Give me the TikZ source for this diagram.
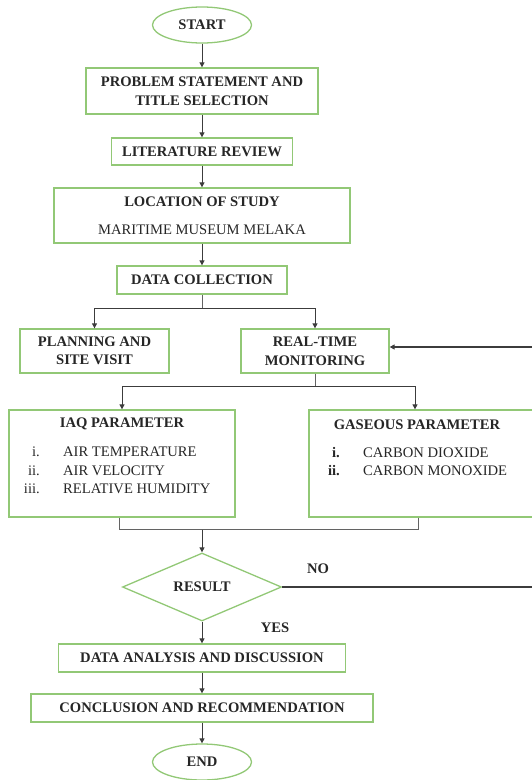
\documentclass[tikz,border=0pt]{standalone}
\usepackage{fontspec}
\setmainfont{Liberation Serif}
\usetikzlibrary{shapes.geometric,arrows.meta}
\definecolor{boxgreen}{RGB}{146,200,118}
\definecolor{linegray}{RGB}{60,60,60}
\tikzset{
  base/.style={draw=boxgreen, line width=1.3pt, inner sep=0pt, align=center,
    font=\fontsize{14.6}{18.5}\selectfont\bfseries, text=black!85},
  stepbox/.style={base, rectangle},
  termbox/.style={base, ellipse, minimum width=99pt, minimum height=36pt},
  decbox/.style={base, diamond, minimum width=159pt, minimum height=68pt, aspect=2.3},
  arr/.style={draw=linegray, line width=1pt, -{Triangle[length=5pt,width=5pt]}},
  gline/.style={draw=linegray!80, line width=1pt},
  lbl/.style={inner sep=0pt, font=\fontsize{14.6}{17}\selectfont, text=black!85},
  blbl/.style={lbl, font=\fontsize{14.6}{17}\selectfont\bfseries}
}
\begin{document}
\begin{tikzpicture}[x=1pt,y=-1pt]
\useasboundingbox (0,0) rectangle (531,780);
% nodes
\node[termbox] (start) at (202,25) {START};
\node[stepbox, minimum width=232pt, minimum height=46pt] (prob) at (202,91) {PROBLEM STATEMENT AND\\TITLE SELECTION};
\node[stepbox, minimum width=181pt, minimum height=27pt] (lit) at (202,151.5) {LITERATURE REVIEW};
\node[stepbox, minimum width=296pt, minimum height=55pt] (loc) at (202,215.5) {LOCATION OF STUDY\\[9pt]{\mdseries MARITIME MUSEUM MELAKA}};
\node[stepbox, minimum width=170pt, minimum height=28pt] (dc) at (202,280) {DATA COLLECTION};
\node[stepbox, minimum width=149pt, minimum height=44pt] (plan) at (94.5,351) {PLANNING AND\\SITE VISIT};
\node[stepbox, minimum width=148pt, minimum height=44pt] (rt) at (315,351) {REAL-TIME\\MONITORING};
\node[stepbox, minimum width=226pt, minimum height=107pt] (iaq) at (122,463.5) {};
\node[stepbox, minimum width=228pt, minimum height=107pt] (gas) at (423,463.5) {};
\node[decbox] (dia) at (202,587) {RESULT};
\node[stepbox, minimum width=287pt, minimum height=28pt] (da) at (202,658) {DATA ANALYSIS AND DISCUSSION};
\node[stepbox, minimum width=342pt, minimum height=28pt] (conc) at (202,708) {CONCLUSION AND RECOMMENDATION};
\node[termbox] (end) at (202,762) {END};
% texts inside the parameter boxes
\node[blbl] (iaqt) at (122,424) {IAQ PARAMETER};
\node[lbl, anchor=east] (i1) at (40,452) {i.};
\node[lbl, anchor=east] (i2) at (40,471) {ii.};
\node[lbl, anchor=east] (i3) at (40,489) {iii.};
\node[lbl, anchor=west] (t1) at (63,452) {AIR TEMPERATURE};
\node[lbl, anchor=west] (t2) at (63,471) {AIR VELOCITY};
\node[lbl, anchor=west] (t3) at (63,489) {RELATIVE HUMIDITY};
\node[blbl] (gast) at (417,425) {GASEOUS PARAMETER};
\node[blbl, anchor=east] (g1) at (340,453) {i.};
\node[blbl, anchor=east] (g2) at (340,471) {ii.};
\node[lbl, anchor=west] (u1) at (363,453) {CARBON DIOXIDE};
\node[lbl, anchor=west] (u2) at (363,471) {CARBON MONOXIDE};
\node[blbl] (no) at (318,569) {NO};
\node[blbl] (yes) at (275,628) {YES};
% connectors
\draw[arr] (start) -- (prob);
\draw[arr] (prob) -- (lit);
\draw[arr] (lit) -- (loc);
\draw[arr] (loc) -- (dc);
\draw[gline] (dc.south) -- ++(0,-14pt) coordinate (s1);
\draw[arr] (s1) -| (plan.north);
\draw[arr] (s1) -| (rt.north);
\draw[gline] (rt.south) -- ++(0,-13pt) coordinate (s2);
\draw[arr] (s2) -| (iaq.north);
\draw[arr] (s2) -| ([xshift=-8pt]gas.north);
\draw[gline] ([xshift=-3pt]iaq.south) -- ++(0,-12pt) coordinate (m1);
\draw[gline] ([xshift=-5pt]gas.south) -- ++(0,-12pt) coordinate (m2);
\draw[gline] (m1) -- (m2);
\coordinate (m3) at (m1 -| dia.north);
\draw[arr] (m3) -- (dia.north);
\draw[arr] (dia) -- (da);
\draw[arr] (da) -- (conc);
\draw[arr] (conc) -- (end);
\coordinate (far) at (534,0);
\draw[arr, line width=1.3pt] (dia.east) -- (dia.east -| far) |- ([yshift=4pt]rt.east);
\end{tikzpicture}
\end{document}
